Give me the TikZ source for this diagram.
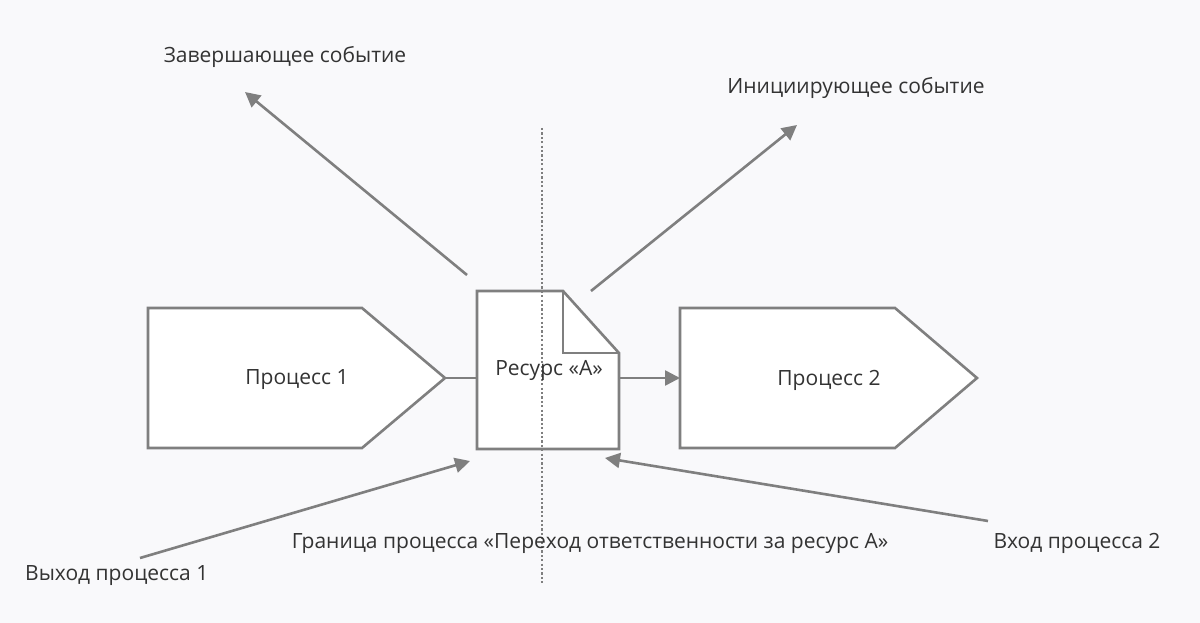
\documentclass[tikz,border=0pt]{standalone}
\usepackage{fontspec}
\setmainfont{Open Sans}
\usetikzlibrary{arrows.meta}
\definecolor{bg}{HTML}{F9F9FB}
\definecolor{ln}{HTML}{7F7F7F}
\definecolor{tx}{HTML}{333333}
\begin{document}
\begin{tikzpicture}[x=1pt,y=-1pt,
  shp/.style={draw=ln,line width=2.6pt,fill=white,line join=miter},
  con/.style={draw=ln,line width=2.6pt},
  arr/.style={con,-{Triangle[length=15pt,width=15pt]}},
  lbl/.style={text=tx,font=\fontsize{21}{25}\selectfont,inner sep=0pt}]
\fill[bg] (0,0) rectangle (1200,623);
\useasboundingbox (0,0) rectangle (1200,623);
% shapes
\draw[shp] (148,308) -- (362,308) -- (445,378) -- (362,448) -- (148,448) -- cycle;
\draw[shp] (680,308) -- (895,308) -- (977,378) -- (895,448) -- (680,448) -- cycle;
\draw[shp] (477,291) -- (563,291) -- (619,353) -- (619,449) -- (477,449) -- cycle;
\draw[con,line join=miter] (563,291) -- (563,353) -- (619,353);
\coordinate (p1tip) at (445,378);
\coordinate (docL) at (477,378);
\coordinate (docR) at (619,378);
\coordinate (p2L) at (680,378);
\draw[con] (p1tip) -- (docL);
\draw[arr] (docR) -- (p2L);
% boundary
\coordinate (bt) at (542,128);
\coordinate (bb) at (542,583);
\draw[ln,line width=2.2pt,dash pattern=on 2.2pt off 2.2pt] (bt) -- (bb);
% arrows
\coordinate (a1s) at (467,275); \coordinate (a1e) at (245,92);
\coordinate (a2s) at (591,291); \coordinate (a2e) at (797,125);
\coordinate (a3s) at (140,558); \coordinate (a3e) at (470,461);
\coordinate (a4s) at (988,521); \coordinate (a4e) at (605,458);
\draw[arr] (a1s) -- (a1e);
\draw[arr] (a2s) -- (a2e);
\draw[arr] (a3s) -- (a3e);
\draw[arr] (a4s) -- (a4e);
% labels
\node[lbl] (t1) at (285,57) {Завершающее событие};
\node[lbl] (t2) at (856,88) {Инициирующее событие};
\node[lbl,anchor=west] (t3) at (25,576) {Выход процесса 1};
\node[lbl] (t4) at (590,543) {Граница процесса «Переход ответственности за ресурс А»};
\node[lbl] (t5) at (1077,543) {Вход процесса 2};
\node[lbl] (n1) at (297,380) {Процесс 1};
\node[lbl] (n2) at (829,380) {Процесс 2};
\node[lbl] (n3) at (549,370) {Ресурс «А»};
\end{tikzpicture}
\end{document}
